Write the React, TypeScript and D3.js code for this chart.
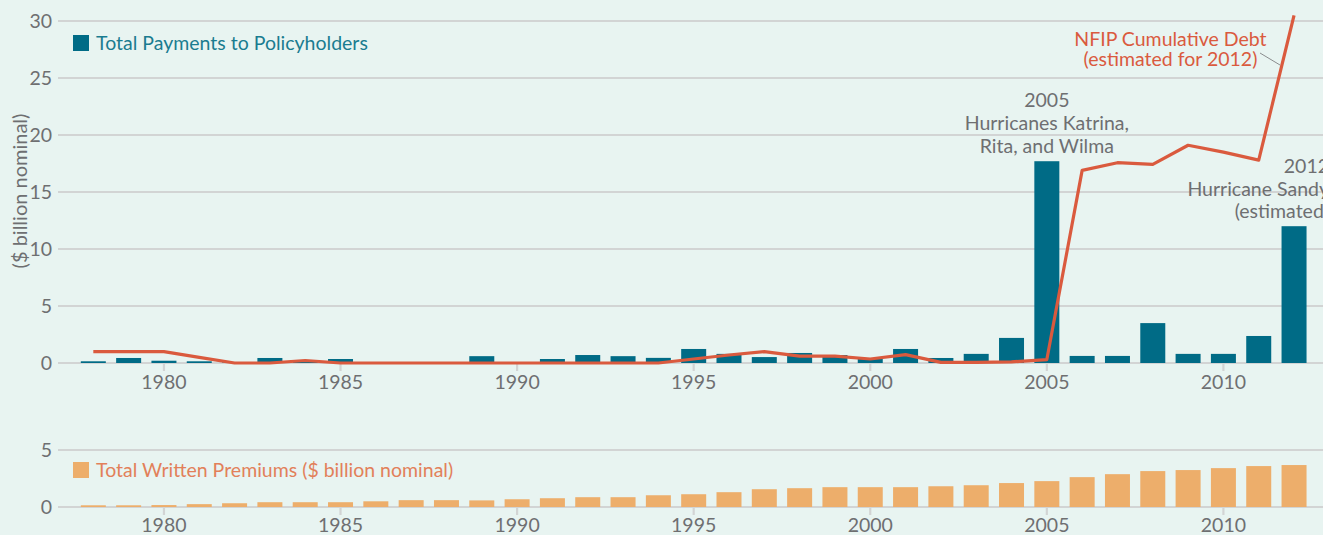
import React from "react";
import * as d3 from "d3";

const years = d3.range(1978, 2013);
const payments = [0.15, 0.44, 0.2, 0.15, 0.05, 0.44, 0.1, 0.35, 0.08, 0.08, 0.08, 0.6, 0.08, 0.35, 0.7, 0.6, 0.45, 1.23, 0.8, 0.52, 0.88, 0.7, 0.35, 1.23, 0.44, 0.8, 2.2, 17.7, 0.62, 0.62, 3.5, 0.8, 0.8, 2.37, 12.0];
const debt = [1.0, 1.0, 1.0, 0.5, 0.0, 0.0, 0.22, 0.0, 0.0, 0.0, 0.0, 0.0, 0.0, 0.0, 0.0, 0.0, 0.0, 0.35, 0.7, 1.0, 0.6, 0.6, 0.35, 0.73, 0.05, 0.05, 0.1, 0.3, 16.9, 17.57, 17.42, 19.1, 18.5, 17.8, 30.5];
const premiums = [0.15, 0.15, 0.17, 0.25, 0.33, 0.42, 0.42, 0.42, 0.5, 0.6, 0.6, 0.58, 0.68, 0.77, 0.86, 0.86, 1.03, 1.12, 1.3, 1.56, 1.65, 1.74, 1.74, 1.74, 1.82, 1.91, 2.1, 2.27, 2.62, 2.88, 3.15, 3.24, 3.41, 3.59, 3.68];
const xTicks = [1980, 1985, 1990, 1995, 2000, 2005, 2010];
const topYTicks = [0, 5, 10, 15, 20, 25, 30];
const bottomYTicks = [0, 5];

const W = 1323;
const H = 535;
const FONT = "Lato, 'Open Sans', sans-serif";
const FS = 19.5;
const BG = "#E8F4F1";
const GRID = "#D2D4D4";
const TEAL = "#006B86";
const ORANGE = "#EDAE6B";
const RED = "#DA5A3E";
const GRAY = "#6E6F71";

export default function App() {
  const x = d3.scaleLinear().domain([1977, 2012.82]).range([58, W]);
  const yTop = d3.scaleLinear().domain([0, 30]).range([363, 21]);
  const yBot = d3.scaleLinear().domain([0, 5]).range([507, 450]);
  const bw = 25;

  const line = d3
    .line<number>()
    .x((_, i) => x(years[i]))
    .y((d) => yTop(d));

  const xAxis = (y0: number, labelY: number) => (
    <g>
      {xTicks.map((t) => (
        <g key={t}>
          <line x1={x(t)} x2={x(t)} y1={y0} y2={y0 + 8} stroke={GRID} strokeWidth={2.2} />
          <text x={x(t)} y={labelY} textAnchor="middle" fontSize={FS} fill={GRAY} fontFamily={FONT}>
            {t}
          </text>
        </g>
      ))}
    </g>
  );

  return (
    <svg width={W} height={H} style={{ position: "absolute", left: 0, top: 0, background: BG }}>
      <rect x={0} y={0} width={W} height={H} fill={BG} />
      {/* top panel grid */}
      {topYTicks.map((t) => (
        <g key={t}>
          <line x1={58} x2={W} y1={yTop(t)} y2={yTop(t)} stroke={GRID} strokeWidth={2.2} />
          <text x={52} y={yTop(t) + 7} textAnchor="end" fontSize={FS} fill={GRAY} fontFamily={FONT}>
            {t}
          </text>
        </g>
      ))}
      <text
        transform={`translate(27,191) rotate(-90)`}
        textAnchor="middle"
        fontSize={20}
        fill={GRAY}
        fontFamily={FONT}
      >
        ($ billion nominal)
      </text>
      {xAxis(363, 389)}
      {years.map((yr, i) => (
        <rect key={yr} x={x(yr) - bw / 2} y={yTop(payments[i])} width={bw} height={yTop(0) - yTop(payments[i])} fill={TEAL} />
      ))}
      <path d={line(debt) || ""} fill="none" stroke={RED} strokeWidth={3.2} strokeLinejoin="round" />

      {/* legend top */}
      <rect x={73} y={35} width={16} height={16} fill={TEAL} />
      <text x={96} y={49.5} fontSize={FS} fill="#1A7C90" fontFamily={FONT}>
        Total Payments to Policyholders
      </text>

      {/* annotations */}
      <g fontFamily={FONT} fontSize={FS}>
        <text x={x(2008.5)} y={45.5} textAnchor="middle" fill={RED}>NFIP Cumulative Debt</text>
        <text x={x(2008.5)} y={66} textAnchor="middle" fill={RED}>(estimated for 2012)</text>
        <line x1={1260} y1={53} x2={1280} y2={65} stroke="#8A8C8E" strokeWidth={1} />
        <text x={x(2005)} y={107} textAnchor="middle" fill={GRAY}>2005</text>
        <text x={x(2005)} y={130} textAnchor="middle" fill={GRAY}>Hurricanes Katrina,</text>
        <text x={x(2005)} y={153} textAnchor="middle" fill={GRAY}>Rita, and Wilma</text>
        <text x={x(2012) + 35} y={173} textAnchor="end" fill={GRAY}>2012</text>
        <text x={x(2012) + 35} y={196} textAnchor="end" fill={GRAY}>Hurricane Sandy</text>
        <text x={x(2012) + 35} y={218} textAnchor="end" fill={GRAY}>(estimated)</text>
      </g>

      {/* bottom panel */}
      {bottomYTicks.map((t) => (
        <g key={t}>
          <line x1={58} x2={W} y1={yBot(t)} y2={yBot(t)} stroke={GRID} strokeWidth={2.2} />
          <text x={52} y={yBot(t) + 7} textAnchor="end" fontSize={FS} fill={GRAY} fontFamily={FONT}>
            {t}
          </text>
        </g>
      ))}
      {xAxis(507, 532)}
      {years.map((yr, i) => (
        <rect key={yr} x={x(yr) - bw / 2} y={yBot(premiums[i])} width={bw} height={yBot(0) - yBot(premiums[i])} fill={ORANGE} />
      ))}
      <rect x={73} y={462} width={16} height={16} fill={ORANGE} />
      <text x={96} y={476.5} fontSize={FS} fill="#E2805A" fontFamily={FONT}>
        Total Written Premiums ($ billion nominal)
      </text>
    </svg>
  );
}
